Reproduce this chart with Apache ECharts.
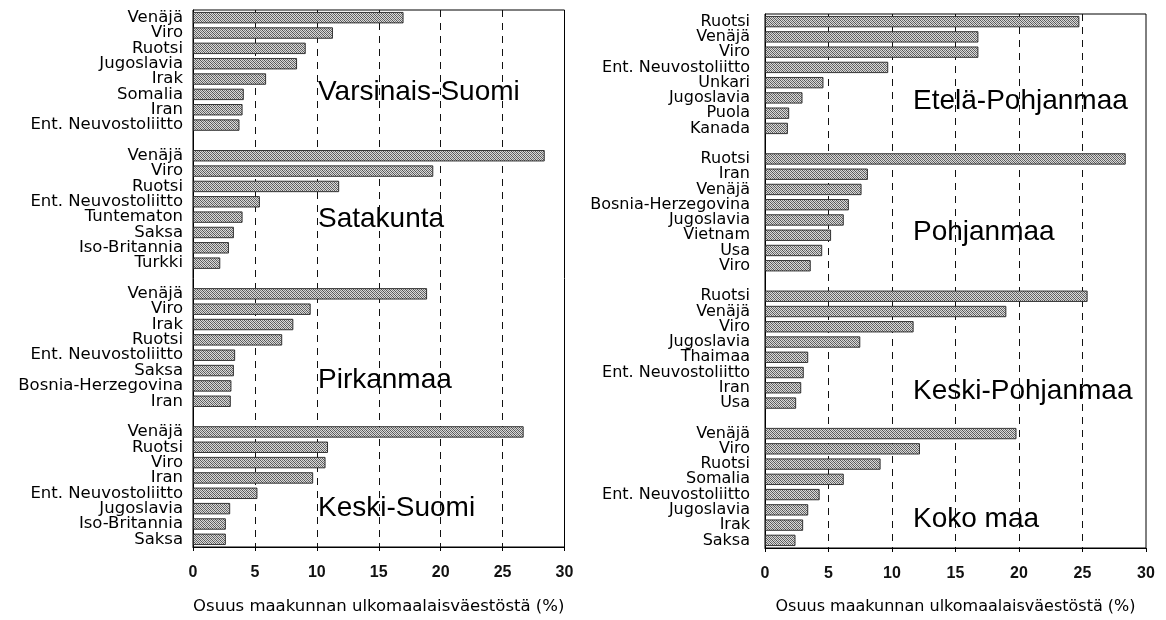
<!DOCTYPE html>
<html>
<head>
<meta charset="utf-8">
<script src="https://cdn.jsdelivr.net/npm/echarts@6/dist/echarts.min.js"></script>
<style>
html,body{margin:0;padding:0;background:#fff;}
#c{width:1166px;height:620px;}
</style>
</head>
<body>
<div id="c"></div>
<script>
// ---- data ----
const vsCats = ['Venäjä','Viro','Ruotsi','Jugoslavia','Irak','Somalia','Iran','Ent. Neuvostoliitto'];
const vsVals = [17.0, 11.3, 9.1, 8.4, 5.9, 4.1, 4.0, 3.75];
const saCats = ['Venäjä','Viro','Ruotsi','Ent. Neuvostoliitto','Tuntematon','Saksa','Iso-Britannia','Turkki'];
const saVals = [28.4, 19.4, 11.8, 5.4, 4.0, 3.3, 2.9, 2.2];
const piCats = ['Venäjä','Viro','Irak','Ruotsi','Ent. Neuvostoliitto','Saksa','Bosnia-Herzegovina','Iran'];
const piVals = [18.9, 9.5, 8.1, 7.2, 3.4, 3.3, 3.1, 3.05];
const ksCats = ['Venäjä','Ruotsi','Viro','Iran','Ent. Neuvostoliitto','Jugoslavia','Iso-Britannia','Saksa'];
const ksVals = [26.7, 10.9, 10.7, 9.7, 5.2, 3.0, 2.65, 2.65];

const epCats = ['Ruotsi','Venäjä','Viro','Ent. Neuvostoliitto','Unkari','Jugoslavia','Puola','Kanada'];
const epVals = [24.75, 16.8, 16.8, 9.7, 4.6, 2.95, 1.9, 1.8];
const poCats = ['Ruotsi','Iran','Venäjä','Bosnia-Herzegovina','Jugoslavia','Vietnam','Usa','Viro'];
const poVals = [28.4, 8.1, 7.6, 6.6, 6.2, 5.2, 4.5, 3.6];
const kpCats = ['Ruotsi','Venäjä','Viro','Jugoslavia','Thaimaa','Ent. Neuvostoliitto','Iran','Usa'];
const kpVals = [25.4, 19.0, 11.7, 7.5, 3.4, 3.05, 2.85, 2.45];
const kmCats = ['Venäjä','Viro','Ruotsi','Somalia','Ent. Neuvostoliitto','Jugoslavia','Irak','Saksa'];
const kmVals = [19.8, 12.2, 9.1, 6.2, 4.3, 3.4, 3.0, 2.4];

const leftTitles = ['Varsinais-Suomi','Satakunta','Pirkanmaa','Keski-Suomi'];
const rightTitles = ['Etelä-Pohjanmaa','Pohjanmaa','Keski-Pohjanmaa','Koko maa'];
const xTicks = [0,5,10,15,20,25,30];
const axisTitle = 'Osuus maakunnan ulkomaalaisväestöstä (%)';

// ---- build columns with empty gap rows ----
function buildColumn(cats, vals){
  const c = [], v = [];
  cats.forEach((cs, i) => {
    if (i > 0) { c.push(''); v.push('-'); }
    cs.forEach((n, j) => { c.push(n); v.push(vals[i][j]); });
  });
  return {c, v};
}
const L = buildColumn([vsCats, saCats, piCats, ksCats], [vsVals, saVals, piVals, ksVals]);
const R = buildColumn([epCats, poCats, kpCats, kmCats], [epVals, poVals, kpVals, kmVals]);

// ---- dotted hatch pattern ----
const pc = document.createElement('canvas');
pc.width = 4; pc.height = 4;
const g = pc.getContext('2d');
g.fillStyle = '#dadada'; g.fillRect(0,0,4,4);
for (let y = 0; y < 4; y++) for (let x = 0; x < 4; x++) {
  if ((x + y) % 2 === 0) { g.fillStyle = ((x + 3*y) % 4 === 0) ? '#555555' : '#7a7a7a'; g.fillRect(x, y, 1, 1); }
}
const pattern = {image: pc, repeat: 'repeat'};

const FONT = 'Liberation Sans, Arial, Helvetica, sans-serif';
const LFONT = 'DejaVu Sans, Liberation Sans, sans-serif';

function xAxisCfg(gi, nfs){
  return {
    gridIndex: gi, type: 'value', min: 0, max: 30, interval: 5,
    name: axisTitle, nameLocation: 'middle', nameGap: 51,
    nameTextStyle: {fontFamily: LFONT, fontSize: nfs, color: '#000'},
    axisLine: {show: true, lineStyle: {color: '#000', width: 1.2}},
    axisTick: {show: true, length: 4, lineStyle: {color: '#000'}},
    axisLabel: {fontFamily: FONT, fontSize: 16, fontWeight: 'bold', color: '#111', margin: 18,
      formatter: v => xTicks.indexOf(v) >= 0 ? String(v) : ''},
    splitLine: {show: true, showMinLine: false, showMaxLine: false,
      lineStyle: {color: '#111', type: [7, 6], width: 1}}
  };
}
function yAxisCfg(gi, cats, fs, margin){
  return {
    gridIndex: gi, type: 'category', data: cats, inverse: true,
    axisLine: {show: true, lineStyle: {color: '#000', width: 1}},
    axisTick: {show: false},
    axisLabel: {fontFamily: LFONT, fontSize: fs, color: '#000', margin: margin, interval: 0, lineHeight: fs},
    splitLine: {show: false}
  };
}
function barSeries(gi, vals){
  return {
    type: 'bar', xAxisIndex: gi, yAxisIndex: gi, data: vals,
    barCategoryGap: '26%',
    itemStyle: {color: pattern, borderColor: '#222', borderWidth: 0.9},
    silent: true, animation: false
  };
}

const graphics = [];
const lt = [92, 219, 380, 508];
leftTitles.forEach((t, i) => graphics.push({type: 'text', x: 318, y: lt[i],
  style: {text: t, font: '28px ' + FONT, fill: '#000', textVerticalAlign: 'middle', verticalAlign: 'middle'}}));
const rt = [101, 232, 391, 519];
rightTitles.forEach((t, i) => graphics.push({type: 'text', x: 913, y: rt[i],
  style: {text: t, font: '28px ' + FONT, fill: '#000', textVerticalAlign: 'middle', verticalAlign: 'middle'}}));

const chart = echarts.init(document.getElementById('c'), null, {renderer: 'canvas'});
chart.setOption({
  animation: false,
  backgroundColor: '#fff',
  grid: [
    {left: 193, right: 1166 - 564.5, top: 10, bottom: 620 - 553, show: true, borderColor: '#000', borderWidth: 1, backgroundColor: 'transparent'},
    {left: 765, right: 1166 - 1146, top: 14, bottom: 620 - 552, show: true, borderColor: '#000', borderWidth: 1, backgroundColor: 'transparent'}
  ],
  xAxis: [xAxisCfg(0, 16.5), xAxisCfg(1, 16)],
  yAxis: [yAxisCfg(0, L.c, 16.5, 10), yAxisCfg(1, R.c, 16, 15)],
  series: [barSeries(0, L.v), barSeries(1, R.v)],
  graphic: graphics
});
</script>
</body>
</html>
